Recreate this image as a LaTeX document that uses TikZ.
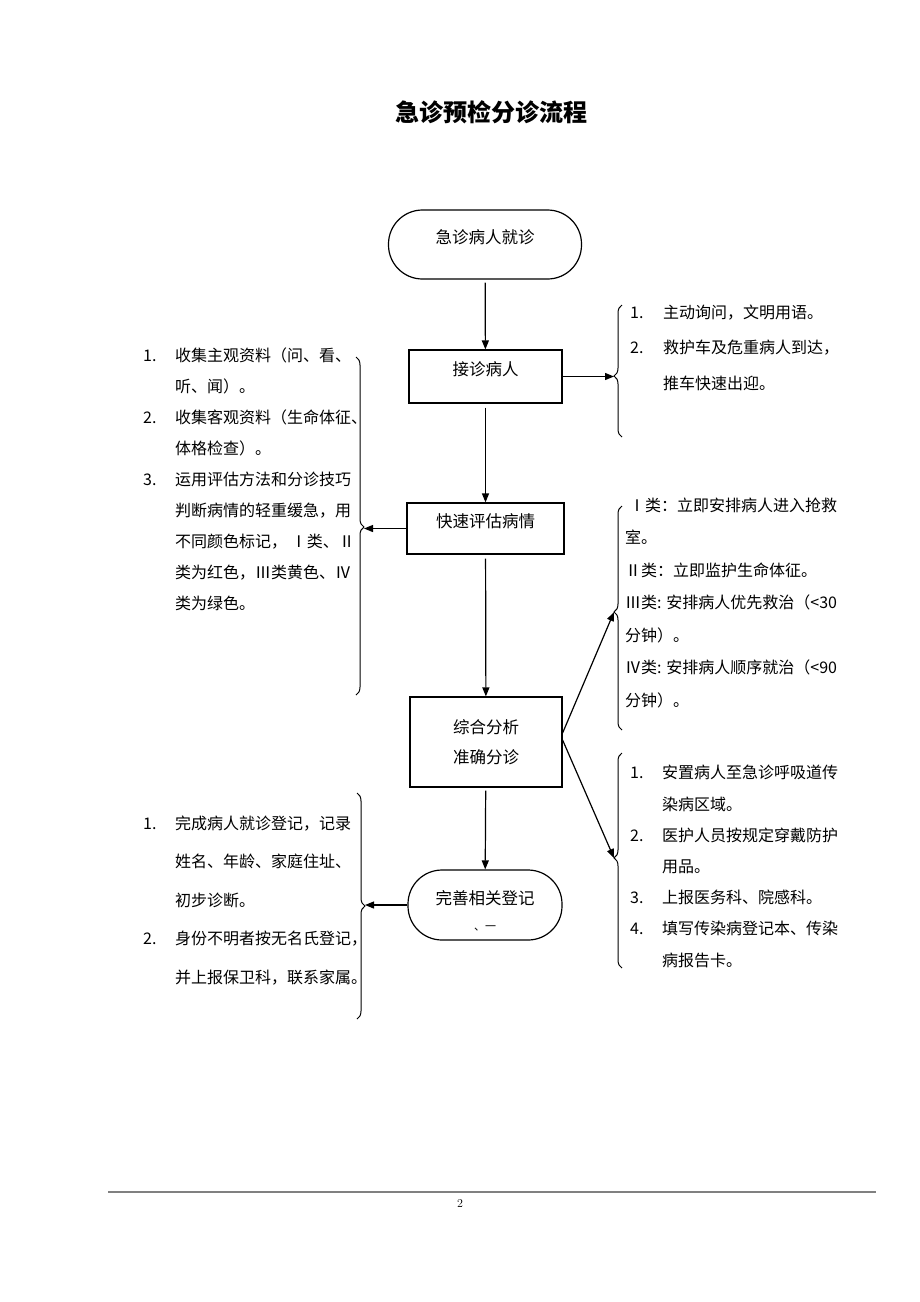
\documentclass[tikz,border=0pt]{standalone}
\usepackage{fontspec}
\newfontfamily\cjk{Noto Sans CJK SC}
\usetikzlibrary{arrows.meta,decorations.pathreplacing}
\tikzset{
  ln/.style={line width=1.2pt},
  arr/.style={ln,-{Triangle[length=9pt,width=7pt]}},
  boxbase/.style={draw,ln,inner sep=0pt,font=\cjk\fontsize{16.5}{30}\selectfont},
  box/.style={boxbase,text height=12pt,text depth=14pt},
  stad/.style={box,rounded corners=34pt},
  box2/.style={boxbase,align=center},
  brc/.style={line width=1pt,decorate,decoration={brace,amplitude=8pt,aspect=#1}},
  lst/.style={anchor=base west,align=left,inner sep=0pt},
}
\newcommand{\itm}[1]{\makebox[32pt][l]{#1}}
\newcommand{\ind}{\hspace*{32pt}}
\begin{document}
\begin{tikzpicture}[x=1pt,y=-1pt]
\useasboundingbox (0,0) rectangle (920,1302);
\fill[white] (0,0) rectangle (920,1302);

\node[font=\cjk\bfseries\fontsize{24}{24}\selectfont] (title) at (491,112) {急诊预检分诊流程};

% main flow
\node[stad,minimum width=193pt,minimum height=69pt] (st) at (485,244.5) {急诊病人就诊};
\node[box,minimum width=153pt,minimum height=53pt] (jz) at (485.5,376.5) {接诊病人};
\node[box,minimum width=157pt,minimum height=51pt] (ks) at (485.5,528.5) {快速评估病情};
\node[box2,minimum width=152pt,minimum height=90pt] (zh) at (486,742) {综合分析\\准确分诊};
\node[stad,minimum width=154pt,minimum height=70pt] (ws) at (485,905) {完善相关登记};
\node[inner sep=0pt,font=\cjk\fontsize{11}{11}\selectfont] (ws2) at (485,928) {、一};

\draw[arr,shorten <=3pt] (st) -- (jz);
\draw[arr,shorten <=4pt] (jz) -- (ks);
\draw[arr,shorten <=4pt] (ks) -- (zh);
\draw[arr,shorten <=3pt] (zh) -- (ws);

% braces
\coordinate (b1t) at (614,376.5);
\coordinate (b2t) at (614,612);
\coordinate (b3t) at (614,858);
\coordinate (lb1t) at (364,528.5);
\coordinate (lb2t) at (365,905);

\draw[brc=0.462] (622,437) -- (622,305);
\draw[brc=0.527] (622,730) -- (622,506);
\draw[brc=0.512] (622,968) -- (622,753);
\draw[brc=0.503] (356,357) -- (356,695);
\draw[brc=0.5] (357,793) -- (357,1019);

\draw[arr] (jz.east) -- (b1t);
\draw[arr] (ks.west) -- (lb1t);
\draw[arr] ([yshift=9pt]zh.east) -- (b2t);
\draw[arr] ([yshift=2pt]zh.east) -- (b3t);
\draw[arr] (ws.west) -- (lb2t);

% text lists (anchor = baseline of last line)
\node[lst,font=\cjk\fontsize{16}{31}\selectfont] (l1) at (143,609) {%
\itm{1.}收集主观资料（问、看、\\
\ind 听、闻）。\\
\itm{2.}收集客观资料（生命体征、\\
\ind 体格检查）。\\
\itm{3.}运用评估方法和分诊技巧\\
\ind 判断病情的轻重缓急，用\\
\ind 不同颜色标记， Ⅰ类、Ⅱ\\
\ind 类为红色，Ⅲ类黄色、Ⅳ\\
\ind 类为绿色。};

\node[lst,font=\cjk\fontsize{16}{35.5}\selectfont] (r1) at (630,389) {%
\makebox[33pt][l]{1.}主动询问，文明用语。\\
\makebox[33pt][l]{2.}救护车及危重病人到达，\\
\hspace*{33pt}推车快速出迎。};

\node[lst,font=\cjk\fontsize{16}{32.5}\selectfont] (r2) at (625,706) {%
\hspace*{4pt}Ⅰ类：立即安排病人进入抢救\\
室。\\
Ⅱ类：立即监护生命体征。\\
Ⅲ类: 安排病人优先救治（<30\\
分钟）。\\
Ⅳ类: 安排病人顺序就治（<90\\
分钟）。};

\node[lst,font=\cjk\fontsize{16}{31.2}\selectfont] (r3) at (630,966) {%
\itm{1.}安置病人至急诊呼吸道传\\
\ind 染病区域。\\
\itm{2.}医护人员按规定穿戴防护\\
\ind 用品。\\
\itm{3.}上报医务科、院感科。\\
\itm{4.}填写传染病登记本、传染\\
\ind 病报告卡。};

\node[lst,font=\cjk\fontsize{16}{38.5}\selectfont] (l2) at (143,983) {%
\itm{1.}完成病人就诊登记，记录\\
\ind 姓名、年龄、家庭住址、\\
\ind 初步诊断。\\
\itm{2.}身份不明者按无名氏登记，\\
\ind 并上报保卫科，联系家属。};

% footer
\draw[gray,line width=1.3pt] (108,1192) -- (876,1192);
\node[font=\fontsize{12}{12}\selectfont] (pg) at (460,1203) {2};
\end{tikzpicture}
\end{document}
